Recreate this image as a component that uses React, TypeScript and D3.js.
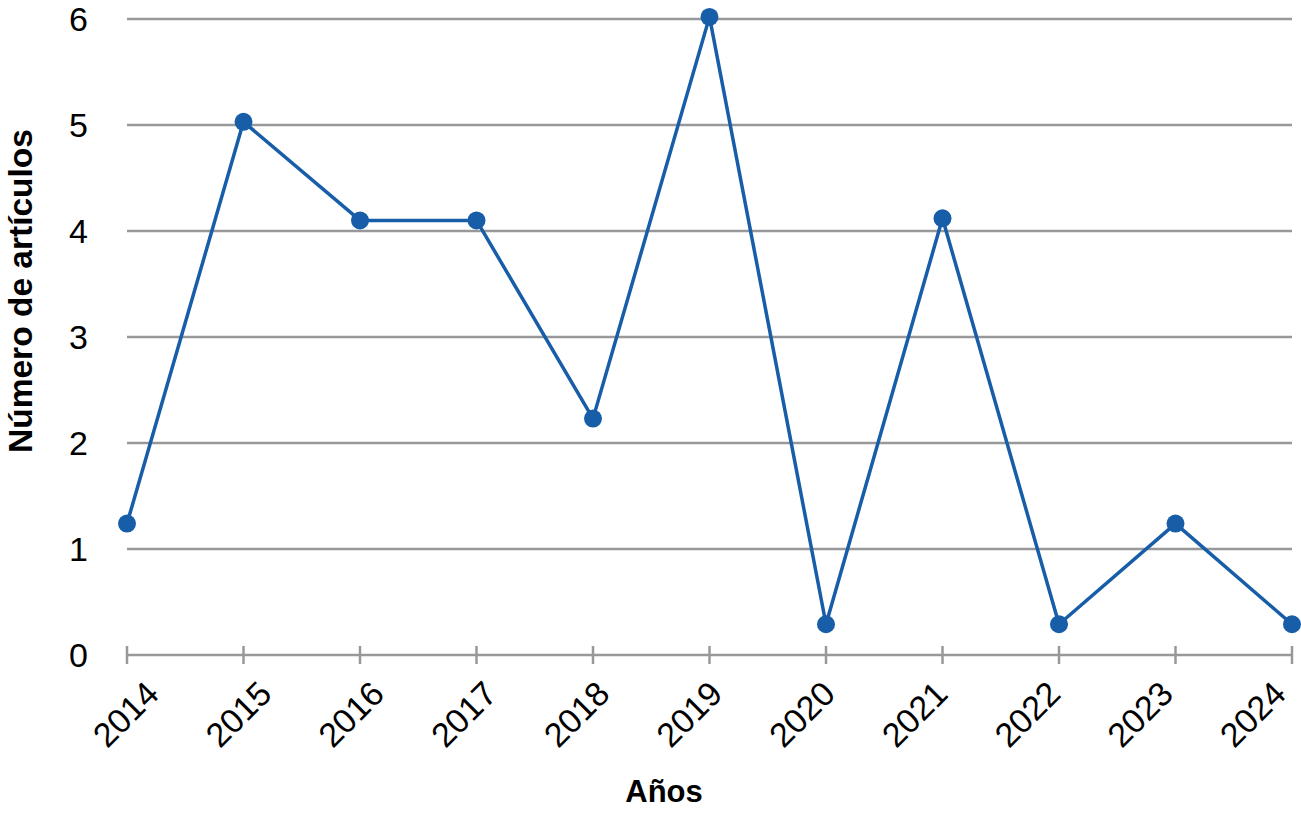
import React from 'react';
import * as d3 from 'd3';

const years = ['2014', '2015', '2016', '2017', '2018', '2019', '2020', '2021', '2022', '2023', '2024'];
const articles = [1.24, 5.03, 4.1, 4.1, 2.23, 6.02, 0.29, 4.12, 0.29, 1.24, 0.29];
const yTicks = [0, 1, 2, 3, 4, 5, 6];

const W = 1301;
const H = 818;
const margin = { top: 19, right: 9, bottom: 163, left: 127 };
const FONT = 'Liberation Sans, Arial, Helvetica, sans-serif';
const BLUE = '#175da8';
const GRID = '#98989a';

export default function App() {
  const x = d3.scalePoint<string>().domain(years).range([margin.left, W - margin.right]);
  // the category labels sit on a slightly narrower band than the ticks
  const xLabel = d3.scalePoint<string>().domain(years).range([144, 1271]);
  const y = d3.scaleLinear().domain([0, 6]).range([H - margin.bottom, margin.top]);

  const line = d3.line<number>()
    .x((_, i) => x(years[i]) as number)
    .y(d => y(d));

  const y0 = y(0);

  return (
    <svg width={W} height={H} style={{ position: 'absolute', left: 0, top: 0, background: '#fff' }}>
      {/* horizontal grid */}
      {yTicks.map(t => (
        <g key={t}>
          <line x1={margin.left} x2={W - margin.right} y1={y(t)} y2={y(t)} stroke={GRID} strokeWidth={2.5} />
          <text x={88} y={y(t)} dy="0.36em" textAnchor="end" fontFamily={FONT} fontSize={34} fill="#000">{t}</text>
        </g>
      ))}

      {/* x ticks and labels */}
      {years.map(yr => {
        const px = x(yr) as number;
        return (
          <g key={yr}>
            <line x1={px} x2={px} y1={y0 - 9} y2={y0 + 9} stroke={GRID} strokeWidth={2.5} />
            <text
              transform={`translate(${xLabel(yr) as number},${y0 + 24}) rotate(-45)`}
              textAnchor="end"
              dy="0.7em"
              fontFamily={FONT}
              fontSize={34}
              fill="#000"
            >{yr}</text>
          </g>
        );
      })}

      {/* series */}
      <path d={line(articles) ?? ''} fill="none" stroke={BLUE} strokeWidth={3.5} strokeLinejoin="round" />
      {articles.map((v, i) => (
        <circle key={i} cx={x(years[i]) as number} cy={y(v)} r={9} fill={BLUE} />
      ))}

      {/* axis titles */}
      <text x={664} y={802} textAnchor="middle" fontFamily={FONT} fontSize={31} fontWeight="bold" fill="#000">Años</text>
      <text
        transform={`translate(32,291) rotate(-90)`}
        textAnchor="middle"
        fontFamily={FONT}
        fontSize={33.5}
        fontWeight="bold"
        fill="#000"
      >Número de artículos</text>
    </svg>
  );
}
